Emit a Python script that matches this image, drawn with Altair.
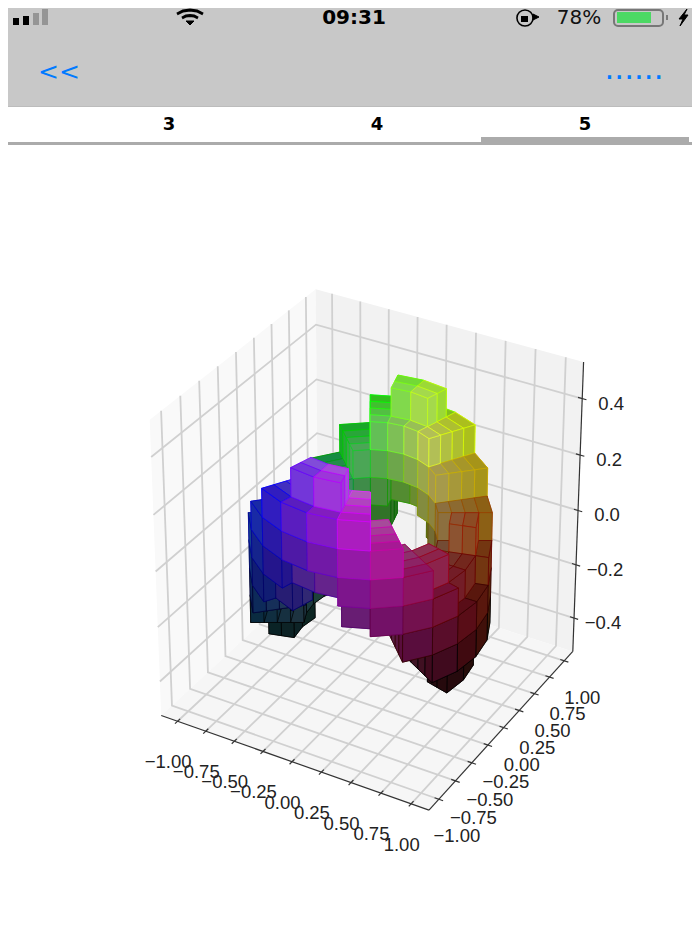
import colorsys
import altair as alt
import numpy as np
import pandas as pd

# ---------- values ----------
X_TICKS = [-1.0, -0.75, -0.5, -0.25, 0.0, 0.25, 0.5, 0.75, 1.0]
Y_TICKS = [-1.0, -0.75, -0.5, -0.25, 0.0, 0.25, 0.5, 0.75, 1.0]
Z_TICKS = [-0.4, -0.2, 0.0, 0.2, 0.4]
X_LABELS = ["\u22121.00", "\u22120.75", "\u22120.50", "\u22120.25", "0.00", "0.25", "0.50", "0.75", "1.00"]
Y_LABELS = X_LABELS
Z_LABELS = ["\u22120.4", "\u22120.2", "0.0", "0.2", "0.4"]

# voxel table: 24 angular sectors of 15 degrees, z-layer index ranges (0..9)
RING_EDGES = [0.5, 0.6, 0.7, 0.8, 0.9]
Z_EDGES = [-0.5, -0.4, -0.3, -0.2, -0.1, 0.0, 0.1, 0.2, 0.3, 0.4, 0.5]
MID_LO = [1, 2, 3, 4, 4, 5, 5, 4, 4, 3, 2, 1, 1, 2, 3, 4, 4, 5, 5, 4, 4, 3, 2, 1]
MID_HI = [4, 5, 5, 6, 7, 8, 8, 7, 6, 5, 5, 4, 4, 5, 5, 6, 7, 8, 8, 7, 6, 5, 5, 4]
OUT_LO = [2, 2, 3, 4, 5, 6, 6, 5, 4, 3, 2, 2, 2, 2, 3, 4, 5, 6, 6, 5, 4, 3, 2, 2]
OUT_HI = [3, 4, 5, 6, 7, 7, 7, 7, 6, 5, 4, 3, 3, 4, 5, 6, 7, 7, 7, 7, 6, 5, 4, 3]

# where the cube's corners sit in the picture (pane x, pane y, pane z, px, py)
CORNERS = [
    (0, 0, 1, 150, 420), (0, 1, 1, 315, 289), (1, 1, 1, 583, 362),
    (1, 1, 0, 573, 652), (1, 0, 0, 430, 810), (0, 0, 0, 161, 715),
]
XY_EDGE = 1.146
Z_EDGE = 0.527

DIR = np.array([np.cos(np.radians(30)) * np.cos(np.radians(-60)),
                np.cos(np.radians(30)) * np.sin(np.radians(-60)),
                np.sin(np.radians(30))])
EYE = np.array([0.5, 0.5, 0.5]) + 10 * DIR
U = np.cross([0, 0, 1], DIR); U = U / np.linalg.norm(U)
V = np.cross(DIR, U)


def view(p):
    q = np.array([(p[0] + 1.1) / 2.2, (p[1] + 1.1) / 2.2, p[2] + 0.5]) - EYE
    w = -np.dot(q, DIR)
    return np.dot(q, U) / w, np.dot(q, V) / w, w


XMIN, XMAX = -XY_EDGE, XY_EDGE
YMIN, YMAX = XMIN, XMAX
ZMIN, ZMAX = -Z_EDGE, Z_EDGE


def corner(c):
    return (XMAX if c[0] else XMIN, YMAX if c[1] else YMIN, ZMAX if c[2] else ZMIN)


vc = np.array([view(corner(c))[:2] for c in CORNERS])
AX = np.linalg.lstsq(np.c_[vc[:, 0], np.ones(len(vc))], np.array([c[3] for c in CORNERS], float), rcond=None)[0]
AY = np.linalg.lstsq(np.c_[vc[:, 1], np.ones(len(vc))], np.array([c[4] for c in CORNERS], float), rcond=None)[0]


def screen(p):
    a, b, _ = view(p)
    return float(AX[0] * a + AX[1]), float(AY[0] * b + AY[1])


def filled(i, k, m):
    i %= 24
    if k in (1, 2):
        return MID_LO[i] <= m <= MID_HI[i]
    if k in (0, 3):
        return OUT_LO[i] <= m <= OUT_HI[i]
    return False


def hexc(c):
    return "#%02x%02x%02x" % tuple(int(round(max(0, min(1, v)) * 255)) for v in c)


def vert(i, k, m):
    t = np.radians(i * 15.0)
    r = RING_EDGES[k]
    return np.array([r * np.cos(t), r * np.sin(t), Z_EDGES[m]])


voxels = []
for i in range(24):
    for k in range(4):
        for m in range(10):
            if not filled(i, k, m):
                continue
            A = lambda a, b, c: vert(i + a, k + b, m + c)
            faces = []
            if not filled(i, k - 1, m):
                faces.append([A(0, 0, 0), A(1, 0, 0), A(1, 0, 1), A(0, 0, 1)])
            if not filled(i, k + 1, m):
                faces.append([A(0, 1, 0), A(1, 1, 0), A(1, 1, 1), A(0, 1, 1)])
            if not filled(i - 1, k, m):
                faces.append([A(0, 0, 0), A(0, 1, 0), A(0, 1, 1), A(0, 0, 1)])
            if not filled(i + 1, k, m):
                faces.append([A(1, 0, 0), A(1, 1, 0), A(1, 1, 1), A(1, 0, 1)])
            if not filled(i, k, m - 1):
                faces.append([A(0, 0, 0), A(1, 0, 0), A(1, 1, 0), A(0, 1, 0)])
            if not filled(i, k, m + 1):
                faces.append([A(0, 0, 1), A(1, 0, 1), A(1, 1, 1), A(0, 1, 1)])
            if not faces:
                continue
            rc = (RING_EDGES[k] + RING_EDGES[k + 1]) / 2
            zc = (Z_EDGES[m] + Z_EDGES[m + 1]) / 2
            tc = (i + 0.5) / 24
            base = np.array(colorsys.hsv_to_rgb(tc, rc, zc + 0.5))
            edge = np.clip(2 * base - 0.5, 0, 1)
            near = min(view(p)[2] for f in faces for p in f)
            voxels.append((near, faces, base, edge))

rows = []
pid = 0
for near, faces, base, edge in sorted(voxels, key=lambda v: -v[0]):
    order = sorted(range(len(faces)), key=lambda j: -np.mean([view(p)[2] for p in faces[j]]))
    for j in order:
        fill, stroke = hexc(base), hexc(edge)
        f = faces[j]
        for q, p in enumerate(list(f) + [f[0]]):
            sx, sy = screen(p)
            rows.append(dict(id=pid, seq=q, x=sx, y=sy, fill=fill, stroke=stroke))
        pid += 1
face_df = pd.DataFrame(rows)

# panes
pane_rows = []
for nm, col, pts in [
    ("xp", "#f9f9f9", [(XMIN, YMIN, ZMIN), (XMIN, YMAX, ZMIN), (XMIN, YMAX, ZMAX), (XMIN, YMIN, ZMAX)]),
    ("yp", "#f2f2f2", [(XMIN, YMAX, ZMIN), (XMAX, YMAX, ZMIN), (XMAX, YMAX, ZMAX), (XMIN, YMAX, ZMAX)]),
    ("zp", "#f6f6f6", [(XMIN, YMIN, ZMIN), (XMAX, YMIN, ZMIN), (XMAX, YMAX, ZMIN), (XMIN, YMAX, ZMIN)]),
]:
    for q, p in enumerate(pts + [pts[0]]):
        sx, sy = screen(p)
        pane_rows.append(dict(id=nm, seq=q, x=sx, y=sy, fill=col))
pane_df = pd.DataFrame(pane_rows)

# grid
grid_rows, g = [], 0
for v in X_TICKS:
    for q, p in enumerate([(v, YMIN, ZMIN), (v, YMAX, ZMIN), (v, YMAX, ZMAX)]):
        sx, sy = screen(p); grid_rows.append(dict(id=g, seq=q, x=sx, y=sy))
    g += 1
for v in Y_TICKS:
    for q, p in enumerate([(XMAX, v, ZMIN), (XMIN, v, ZMIN), (XMIN, v, ZMAX)]):
        sx, sy = screen(p); grid_rows.append(dict(id=g, seq=q, x=sx, y=sy))
    g += 1
for v in Z_TICKS:
    for q, p in enumerate([(XMIN, YMIN, v), (XMIN, YMAX, v), (XMAX, YMAX, v)]):
        sx, sy = screen(p); grid_rows.append(dict(id=g, seq=q, x=sx, y=sy))
    g += 1
grid_df = pd.DataFrame(grid_rows)

# axes and ticks
ax_rows, g = [], 0
for seg in [[(XMIN, YMIN, ZMIN), (XMAX, YMIN, ZMIN)], [(XMAX, YMIN, ZMIN), (XMAX, YMAX, ZMIN)], [(XMAX, YMAX, ZMIN), (XMAX, YMAX, ZMAX)]]:
    for q, p in enumerate(seg):
        sx, sy = screen(p); ax_rows.append(dict(id=g, seq=q, x=sx, y=sy))
    g += 1
TK = 0.035
for v in X_TICKS:
    for q, p in enumerate([(v, YMIN - TK, ZMIN), (v, YMIN + TK, ZMIN)]):
        sx, sy = screen(p); ax_rows.append(dict(id=g, seq=q, x=sx, y=sy))
    g += 1
for v in Y_TICKS:
    for q, p in enumerate([(XMAX - TK, v, ZMIN), (XMAX + TK, v, ZMIN)]):
        sx, sy = screen(p); ax_rows.append(dict(id=g, seq=q, x=sx, y=sy))
    g += 1
for v in Z_TICKS:
    for q, p in enumerate([(XMAX - TK, YMAX, v), (XMAX + TK, YMAX, v)]):
        sx, sy = screen(p); ax_rows.append(dict(id=g, seq=q, x=sx, y=sy))
    g += 1
ax_df = pd.DataFrame(ax_rows)

# tick labels
lab_rows = []
for v, t in zip(X_TICKS, X_LABELS):
    sx, sy = screen((v, YMIN, ZMIN)); lab_rows.append(dict(x=sx - 9.5, y=sy + 41, t=t))
for v, t in zip(Y_TICKS, Y_LABELS):
    sx, sy = screen((XMAX, v, ZMIN)); lab_rows.append(dict(x=sx + 18, y=sy + 37, t=t))
for v, t in zip(Z_TICKS, Z_LABELS):
    sx, sy = screen((XMAX, YMAX, v)); lab_rows.append(dict(x=sx + 29, y=sy + 5, t=t))
lab_df = pd.DataFrame(lab_rows)

# ---------- phone frame ----------
BARS = pd.DataFrame([
    dict(x=8, x2=692, y=8, y2=106, c="#c8c8c8"),
    dict(x=8, x2=692, y=106, y2=107, c="#bcbcbc"),
    dict(x=8, x2=692, y=142, y2=145, c="#ababab"),
    dict(x=481, x2=689, y=137, y2=144, c="#ababab"),
    dict(x=13, x2=19, y=18, y2=25, c="#000000"),
    dict(x=23, x2=29, y=16, y2=25, c="#000000"),
    dict(x=33, x2=39, y=13, y2=25, c="#959595"),
    dict(x=42, x2=48, y=9, y2=25, c="#959595"),
    dict(x=617, x2=651, y=12, y2=23, c="#4cd964"),
    dict(x=666, x2=668, y=15, y2=20, c="#7a7a7a"),
    dict(x=521, x2=528, y=16, y2=22, c="#000000"),
])
ICONS = pd.DataFrame(
    [dict(id=0, seq=q, x=a, y=b) for q, (a, b) in enumerate([(186, 21), (194, 21), (190, 25), (186, 21)])]
    + [dict(id=1, seq=q, x=a, y=b) for q, (a, b) in enumerate([(687, 9), (679, 19), (683, 19), (680, 26), (688, 15), (684, 15), (687, 9)])]
    + [dict(id=2, seq=q, x=a, y=b) for q, (a, b) in enumerate([(533, 14), (539, 17), (533, 20), (533, 14)])]
)
WIFI = pd.DataFrame(
    [dict(id=0, seq=q, x=a, y=b) for q, (a, b) in enumerate([(177, 14), (183, 11), (190, 10), (197, 11), (203, 14)])]
    + [dict(id=1, seq=q, x=a, y=b) for q, (a, b) in enumerate([(182, 18), (186, 16), (190, 15.5), (194, 16), (198, 18)])]
)
BATT = pd.DataFrame(dict(x=[614], x2=[663], y=[10], y2=[26]))
UI_TEXT = pd.DataFrame([
    dict(x=354, y=18, t="09:31", f="DejaVu Sans", s=20, w="bold", c="#000000"),
    dict(x=579, y=18, t="78%", f="DejaVu Sans", s=20, w="normal", c="#111111"),
    dict(x=59, y=72, t="<<", f="DejaVu Sans", s=25, w="normal", c="#007aff"),
    dict(x=634, y=70, t="......", f="DejaVu Sans", s=31, w="normal", c="#007aff"),
    dict(x=169, y=125, t="3", f="DejaVu Sans", s=18, w="bold", c="#000000"),
    dict(x=377, y=125, t="4", f="DejaVu Sans", s=18, w="bold", c="#000000"),
    dict(x=585, y=125, t="5", f="DejaVu Sans", s=18, w="bold", c="#000000"),
])

# ---------- chart ----------
XS = alt.X("x:Q", scale=alt.Scale(domain=[8, 692], nice=False, zero=False), axis=None)
YS = alt.Y("y:Q", scale=alt.Scale(domain=[922, 8], nice=False, zero=False), axis=None)
X2 = alt.X2("x2:Q")
Y2 = alt.Y2("y2:Q")

bars = alt.Chart(BARS).mark_rect(strokeWidth=0).encode(x=XS, x2=X2, y=YS, y2=Y2, color=alt.Color("c:N", scale=None))
batt = alt.Chart(BATT).mark_rect(fillOpacity=0, stroke="#777777", strokeWidth=2, cornerRadius=4).encode(x=XS, x2=X2, y=YS, y2=Y2)
icons = alt.Chart(ICONS).mark_line(fill="#000000", stroke="#000000", strokeWidth=1).encode(x=XS, y=YS, detail="id:N", order="seq:Q")
wifi = alt.Chart(WIFI).mark_line(stroke="#000000", strokeWidth=3).encode(x=XS, y=YS, detail="id:N", order="seq:Q")
lock = alt.Chart(pd.DataFrame(dict(x=[525], y=[18]))).mark_point(shape="circle", size=260, stroke="#000000", strokeWidth=1.6, filled=False, fillOpacity=0).encode(x=XS, y=YS)

panes = alt.Chart(pane_df).mark_line(strokeWidth=0).encode(
    x=XS, y=YS, detail="id:N", order="seq:Q", fill=alt.Fill("fill:N", scale=None))
grid = alt.Chart(grid_df).mark_line(stroke="#d0d0d0", strokeWidth=1.8).encode(x=XS, y=YS, detail="id:N", order="seq:Q")
axes = alt.Chart(ax_df).mark_line(stroke="#333333", strokeWidth=1.2).encode(x=XS, y=YS, detail="id:N", order="seq:Q")
faces = alt.Chart(face_df).mark_line(strokeWidth=1, strokeJoin="round", strokeOpacity=0.7).encode(
    x=XS, y=YS, detail="id:N", order="seq:Q",
    fill=alt.Fill("fill:N", scale=None), stroke=alt.Stroke("stroke:N", scale=None))
labels = alt.Chart(lab_df).mark_text(font="Liberation Sans", fontSize=18.5, color="#222222", baseline="middle", align="center").encode(
    x=XS, y=YS, text="t:N")
ui_layers = [
    alt.Chart(UI_TEXT[UI_TEXT.t == row.t]).mark_text(
        font=row.f, fontSize=row.s, fontWeight=row.w, color=row.c, baseline="middle", align="center"
    ).encode(x=XS, y=YS, text="t:N")
    for row in UI_TEXT.itertuples()
]

chart = alt.layer(
    panes, grid, axes, faces, labels, bars, batt, wifi, icons, lock, *ui_layers
).properties(width=684, height=914, padding=0, autosize="none", background="white").configure_view(strokeWidth=0)

chart.save("out.html", embed_options={"renderer": "svg", "actions": False})
